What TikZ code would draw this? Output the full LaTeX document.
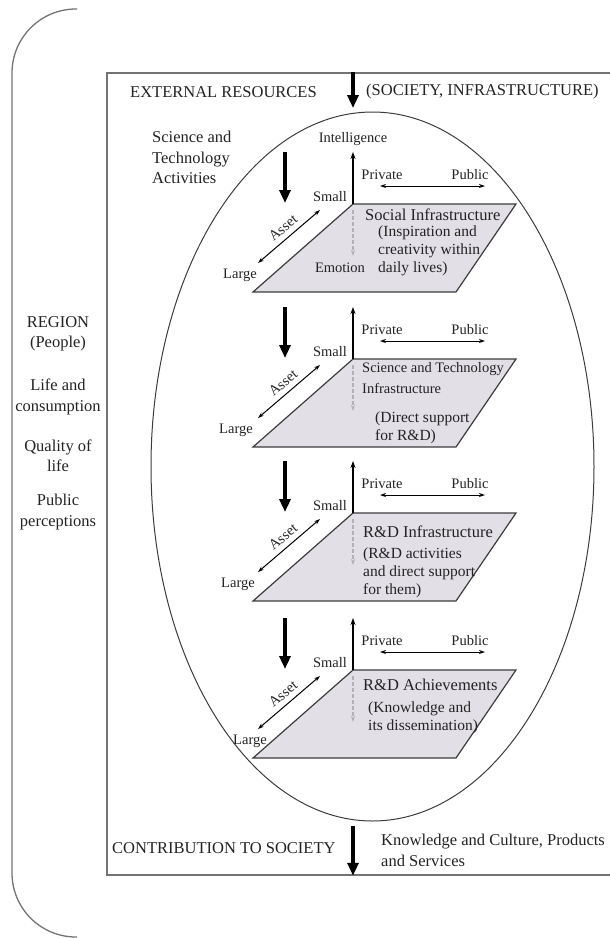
\documentclass[tikz,border=0pt]{standalone}
\usepackage{fontspec}
\setmainfont{Liberation Serif}
\usetikzlibrary{arrows.meta,positioning,shapes.geometric}

\definecolor{panelfill}{RGB}{226,223,230}
\definecolor{edge}{RGB}{60,60,60}
\definecolor{framegray}{RGB}{115,115,115}
\definecolor{ink}{RGB}{35,35,35}

\begin{document}
\begin{tikzpicture}[x=1pt, y=-1pt,
        node distance=4pt,
        txt/.style={font=\fontsize{14.5}{17.5}\selectfont, text=ink, inner sep=0pt},
        sub/.style={font=\fontsize{15.5}{18}\selectfont, text=ink, inner sep=0pt, align=left},
        big/.style={font=\fontsize{16.5}{20.5}\selectfont, text=ink, inner sep=0pt},
        panel/.style={draw=edge, line width=1.2pt, fill=panelfill},
        bigarrow/.style={line width=3.2pt, -{Triangle[width=11pt,length=13pt]}},
        axis/.style={line width=2pt, -{Stealth[length=7pt,width=5pt]}},
        twoway/.style={line width=1pt, {Stealth[length=6pt,width=4pt]}-{Stealth[length=6pt,width=4pt]}},
        fade/.style={draw=gray!60, line width=1.3pt, dash pattern=on 4pt off 2pt, -{Stealth[length=6pt,width=4pt]}}
    ]
        \useasboundingbox (0,0) rectangle (610,938);

% Region bracket, frame and core ellipse
        \draw[framegray, line width=1.3pt, rounded corners=64pt] (77,9) -- (12,9) -- (12,937) -- (77,937);
        \node[draw=framegray, line width=1.5pt, minimum width=505pt, minimum height=802pt, inner sep=0pt] (frame) at (359.5,474) {};
        \node[draw=edge, line width=1pt, ellipse, minimum width=443pt, minimum height=709pt, inner sep=0pt] (core) at (372.5,466.5) {};

% Region (people)
        \node[big, align=center] (region) at (58,334) {REGION\\(People)};
        \node[big, align=center] (life) at (58,397) {Life and\\consumption};
        \node[big, align=center] (quality) at (58,456) {Quality of\\life};
        \node[big, align=center] (percep) at (58,512) {Public\\perceptions};

% Input and output
        \node[big, anchor=west] (extres) at (130,92) {EXTERNAL RESOURCES};
        \node[big, anchor=west] (society) at (366,92) {(SOCIETY, INFRASTRUCTURE)};
        \coordinate (intop) at (353,108);
        \draw[bigarrow] (frame.north -| intop) -- (intop);

        \node[big, anchor=west] (contrib) at (112,848) {CONTRIBUTION TO SOCIETY};
        \node[big, align=left, anchor=north west] (output) at (381,834) {Knowledge and Culture, Products\\and Services};
        \coordinate (outtop) at (353,826);
        \draw[bigarrow] (outtop) -- (outtop |- frame.south);

        \node[big, align=left, anchor=north west] (stact) at (152,131) {Science and\\Technology\\Activities};

% Four layers with their axes
        \foreach \i/\T/\L in {1/204/240, 2/359/236, 3/513/238, 4/670/250}{
            \coordinate (o\i) at (353,\T);
            \draw[panel] (o\i) -- (516,\T) -- (456,\T+88) -- (253,\T+88) -- cycle;
            \coordinate (up\i) at (353,\T-52);
            \draw[axis] (o\i) -- (up\i);
            \coordinate (dt\i) at (353,\T+6);
            \coordinate (dn\i) at (353,\T+52);
            \draw[fade] (dt\i) -- (dn\i);
            \coordinate (pv\i) at (380,\T-18);
            \coordinate (pb\i) at (485,\T-18);
            \draw[twoway] (pv\i) -- (pb\i);
            \node[txt] (private\i) at (382,\T-29) {Private};
            \node[txt] (public\i) at (470,\T-29) {Public};
            \coordinate (lg\i) at (258,\T+59);
            \coordinate (sm\i) at (320,\T+6);
            \draw[twoway] (lg\i) -- (sm\i);
            \node[txt, rotate=40] (asset\i) at (283,\T+24) {Asset};
            \node[txt] (small\i) at (330,\T-7) {Small};
            \node[txt] (large\i) at (\L,\T+71) {Large};
            \coordinate (ds\i) at (285,\T-52);
            \coordinate (de\i) at (285,\T-1);
            \draw[bigarrow] (ds\i) -- (de\i);
        }
        \node[txt, above=6pt of up1] (intel) {Intelligence};
        \node[txt] (emotion) at (340,268) {Emotion};

% Layer texts
        \node[big, anchor=west] (social) at (365,215) {Social Infrastructure};
        \node[sub, anchor=north west] (socialsub) at (378,226) {(Inspiration and\\creativity within\\daily lives)};
        \node[sub, font=\fontsize{14.5}{21}\selectfont, anchor=north west] (sandt) at (362,362) {Science and Technology\\Infrastructure};
        \node[sub, anchor=north west] (sandtsub) at (375,412) {(Direct support\\for R\&D)};
        \node[big, anchor=west] (rdinf) at (363,532) {R\&D Infrastructure};
        \node[sub, anchor=north west] (rdinfsub) at (363,548) {(R\&D activities\\and direct support\\for them)};
        \node[big, anchor=west] (rdach) at (363,685) {R\&D Achievements};
        \node[sub, anchor=north west] (rdachsub) at (368,702) {(Knowledge and\\its dissemination)};

    \end{tikzpicture}
\end{document}
